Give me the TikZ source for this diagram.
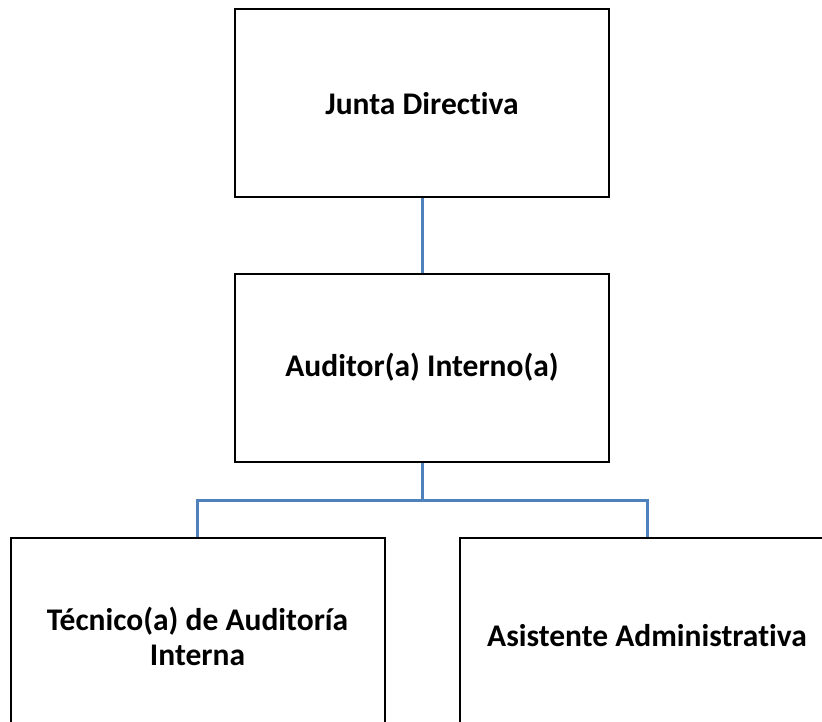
\documentclass[tikz,border=0pt]{standalone}
\usepackage{fontspec}
\setmainfont{Carlito}[Ligatures=NoCommon]
\definecolor{linkblue}{HTML}{4F81BD}
\begin{document}
\begin{tikzpicture}[x=1pt,y=1pt,
  box/.style={draw=black, line width=2pt, minimum width=374pt, minimum height=188pt,
    inner sep=0pt, align=center, font=\fontsize{31.5}{35}\selectfont\bfseries},
  lowbox/.style={box, minimum height=196pt},
  link/.style={draw=linkblue, line width=3pt}]
\useasboundingbox (0,0) rectangle (822,-722);
\clip (0,0) rectangle (822,-722);
\node[box] (junta) at (422,-103.5) {Junta Directiva};
\node[box] (aud) at (422,-367.5) {Auditor(a) Interno(a)};
\node[lowbox] (tec) at (197.5,-636) {Técnico(a) de Auditoría\\Interna};
\node[lowbox] (asi) at (647,-636) {Asistente Administrativa};
\coordinate (bus) at (422,-500);
\draw[link] (junta.south) -- (aud.north);
\draw[link] (aud.south) -- (bus) -| (tec.north);
\draw[link] (bus) -| (asi.north);
\end{tikzpicture}
\end{document}
